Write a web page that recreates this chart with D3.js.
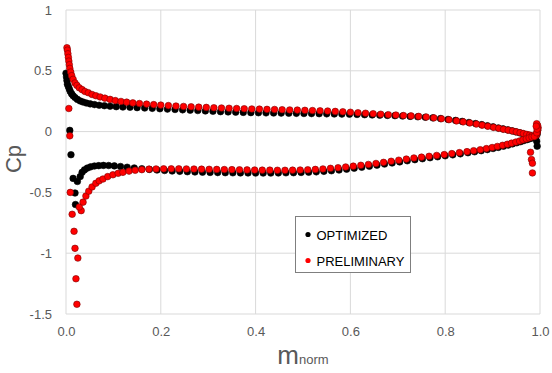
<!DOCTYPE html>
<html>
<head>
<meta charset="UTF-8">
<title>Cp distribution</title>
<script src="https://d3js.org/d3.v7.min.js"></script>
<style>
  body { margin: 0; background: #fff; }
  text { font-family: "Liberation Sans", Arial, sans-serif; }
</style>
</head>
<body>
<div class="canvas"></div>
<script>
const width = 552;
const height = 373;

const seriesNames = ['OPTIMIZED', 'PRELIMINARY'];
const xTicks = [0, 0.2, 0.4, 0.6, 0.8, 1.0];
const yTicks = [-1.5, -1, -0.5, 0, 0.5, 1];

// [m_norm, Cp]
const optUpper = [
  [0.000, 0.48], [0.001, 0.45], [0.002, 0.42], [0.003, 0.39], [0.005, 0.37], [0.007, 0.35],
  [0.009, 0.33], [0.012, 0.31], [0.015, 0.295], [0.019, 0.28], [0.024, 0.265], [0.030, 0.252],
  [0.036, 0.243], [0.043, 0.235], [0.051, 0.228], [0.060, 0.222], [0.070, 0.217], [0.081, 0.213],
  [0.093, 0.209], [0.106, 0.205], [0.120, 0.202], [0.135, 0.200], [0.150, 0.197], [0.166, 0.194],
  [0.182, 0.191], [0.198, 0.188], [0.214, 0.185], [0.230, 0.182], [0.246, 0.179], [0.262, 0.176],
  [0.278, 0.173], [0.294, 0.170], [0.310, 0.167], [0.326, 0.164], [0.342, 0.162], [0.358, 0.160],
  [0.374, 0.158], [0.390, 0.156], [0.406, 0.155], [0.422, 0.154], [0.438, 0.153], [0.454, 0.152],
  [0.470, 0.151], [0.486, 0.150], [0.502, 0.149], [0.518, 0.148], [0.534, 0.147], [0.550, 0.146],
  [0.566, 0.145], [0.582, 0.144], [0.598, 0.143], [0.614, 0.141], [0.630, 0.139], [0.646, 0.137],
  [0.662, 0.135], [0.678, 0.133], [0.694, 0.131], [0.710, 0.128], [0.726, 0.125], [0.742, 0.122],
  [0.758, 0.118], [0.774, 0.113], [0.790, 0.107], [0.806, 0.100], [0.822, 0.092], [0.836, 0.084],
  [0.850, 0.075], [0.864, 0.066], [0.877, 0.057], [0.889, 0.048], [0.901, 0.039], [0.912, 0.030],
  [0.922, 0.022], [0.932, 0.014], [0.941, 0.006], [0.949, -0.002], [0.957, -0.010], [0.964, -0.018],
  [0.971, -0.026], [0.977, -0.033], [0.982, -0.039], [0.987, -0.044], [0.991, -0.047],
  [0.994, -0.020], [0.995, 0.010], [0.995, 0.035]
];
const optLower = [
  [0.008, 0.01], [0.0105, -0.19], [0.015, -0.385], [0.019, -0.505], [0.020, -0.60], [0.024, -0.41],
  [0.030, -0.37], [0.034, -0.335], [0.039, -0.315], [0.045, -0.300], [0.052, -0.290], [0.060, -0.283],
  [0.069, -0.280], [0.079, -0.278], [0.090, -0.279], [0.102, -0.282], [0.115, -0.287], [0.129, -0.293],
  [0.144, -0.299], [0.160, -0.305], [0.176, -0.311], [0.192, -0.316], [0.208, -0.320], [0.224, -0.324],
  [0.240, -0.327], [0.256, -0.330], [0.272, -0.332], [0.288, -0.334], [0.304, -0.336], [0.320, -0.337],
  [0.336, -0.338], [0.352, -0.339], [0.368, -0.340], [0.384, -0.340], [0.400, -0.341], [0.416, -0.341],
  [0.432, -0.341], [0.448, -0.340], [0.464, -0.339], [0.480, -0.338], [0.496, -0.336], [0.512, -0.334],
  [0.528, -0.331], [0.544, -0.327], [0.560, -0.322], [0.576, -0.316], [0.592, -0.309], [0.608, -0.301],
  [0.624, -0.293], [0.640, -0.285], [0.656, -0.276], [0.672, -0.267], [0.688, -0.258], [0.704, -0.249],
  [0.720, -0.240], [0.736, -0.231], [0.752, -0.223], [0.768, -0.215], [0.784, -0.207], [0.800, -0.199],
  [0.816, -0.191], [0.832, -0.183], [0.848, -0.174], [0.862, -0.166], [0.876, -0.157], [0.889, -0.148],
  [0.901, -0.139], [0.912, -0.130], [0.923, -0.120], [0.933, -0.111], [0.942, -0.101], [0.951, -0.092],
  [0.959, -0.083], [0.966, -0.074], [0.973, -0.066], [0.979, -0.058], [0.985, -0.051], [0.990, -0.046],
  [0.993, -0.080], [0.994, -0.120]
];
const preUpper = [
  [0.002, 0.69], [0.003, 0.67], [0.004, 0.64], [0.005, 0.61], [0.006, 0.58], [0.007, 0.55],
  [0.008, 0.52], [0.010, 0.49], [0.012, 0.46], [0.015, 0.43], [0.019, 0.40], [0.023, 0.38],
  [0.028, 0.36], [0.034, 0.345], [0.040, 0.33], [0.047, 0.32], [0.055, 0.305], [0.063, 0.295],
  [0.072, 0.285], [0.082, 0.275], [0.093, 0.265], [0.104, 0.255], [0.116, 0.248], [0.128, 0.242],
  [0.141, 0.236], [0.155, 0.231], [0.170, 0.226], [0.185, 0.222], [0.200, 0.218], [0.216, 0.214],
  [0.232, 0.210], [0.248, 0.207], [0.264, 0.204], [0.280, 0.201], [0.296, 0.199], [0.312, 0.196],
  [0.328, 0.194], [0.344, 0.192], [0.360, 0.190], [0.376, 0.188], [0.392, 0.186], [0.408, 0.185],
  [0.424, 0.183], [0.440, 0.182], [0.456, 0.180], [0.472, 0.178], [0.488, 0.177], [0.504, 0.175],
  [0.520, 0.173], [0.536, 0.171], [0.552, 0.169], [0.568, 0.166], [0.584, 0.163], [0.600, 0.159],
  [0.616, 0.155], [0.632, 0.151], [0.648, 0.147], [0.664, 0.143], [0.680, 0.139], [0.696, 0.136],
  [0.712, 0.132], [0.728, 0.129], [0.744, 0.125], [0.760, 0.120], [0.776, 0.113], [0.792, 0.106],
  [0.808, 0.098], [0.824, 0.088], [0.838, 0.080], [0.852, 0.071], [0.866, 0.062], [0.878, 0.053],
  [0.890, 0.044], [0.902, 0.035], [0.913, 0.027], [0.923, 0.019], [0.933, 0.012], [0.942, 0.005],
  [0.950, -0.002], [0.958, -0.009], [0.965, -0.016], [0.972, -0.023], [0.978, -0.029], [0.983, -0.034],
  [0.988, -0.039], [0.992, -0.030], [0.994, -0.010], [0.995, 0.010], [0.996, 0.030], [0.995, 0.050],
  [0.993, 0.065]
];
const preLower = [
  [0.006, 0.19], [0.008, -0.035], [0.009, -0.50], [0.013, -0.68], [0.017, -0.82], [0.019, -0.96],
  [0.025, -1.04], [0.021, -1.21], [0.023, -1.42], [0.032, -0.65], [0.028, -0.62], [0.036, -0.58],
  [0.042, -0.53], [0.048, -0.49], [0.055, -0.455], [0.063, -0.425], [0.070, -0.405], [0.078, -0.39],
  [0.088, -0.37], [0.099, -0.355], [0.110, -0.343], [0.120, -0.335], [0.133, -0.325], [0.146, -0.318],
  [0.160, -0.313], [0.175, -0.309], [0.190, -0.307], [0.206, -0.306], [0.222, -0.306], [0.238, -0.306],
  [0.254, -0.307], [0.270, -0.308], [0.286, -0.309], [0.302, -0.310], [0.318, -0.311], [0.334, -0.312],
  [0.350, -0.313], [0.366, -0.314], [0.382, -0.315], [0.398, -0.316], [0.414, -0.317], [0.430, -0.317],
  [0.446, -0.318], [0.462, -0.318], [0.478, -0.317], [0.494, -0.316], [0.510, -0.314], [0.526, -0.311],
  [0.542, -0.307], [0.558, -0.302], [0.574, -0.297], [0.590, -0.291], [0.606, -0.284], [0.622, -0.277],
  [0.638, -0.270], [0.654, -0.262], [0.670, -0.253], [0.686, -0.244], [0.702, -0.235], [0.718, -0.226],
  [0.734, -0.217], [0.750, -0.210], [0.766, -0.203], [0.782, -0.196], [0.798, -0.189], [0.814, -0.181],
  [0.830, -0.173], [0.846, -0.165], [0.860, -0.157], [0.874, -0.149], [0.887, -0.140], [0.899, -0.131],
  [0.910, -0.122], [0.921, -0.113], [0.931, -0.104], [0.940, -0.095], [0.949, -0.086], [0.957, -0.077],
  [0.964, -0.068], [0.971, -0.060], [0.977, -0.052], [0.983, -0.045], [0.988, -0.040],
  [0.993, -0.010], [0.994, 0.020], [0.992, 0.045],
  [0.980, -0.17], [0.982, -0.23], [0.984, -0.26], [0.984, -0.34]
];

const ml = 66, mr = 12, mt = 10, mb = 59;

const svg = d3.select('.canvas')
  .append('svg')
  .attr('width', width)
  .attr('height', height)

const x = d3.scaleLinear().domain([0, 1]).range([ml, width - mr])
const y = d3.scaleLinear().domain([-1.5, 1]).range([height - mb, mt])

// grid
svg.append('g')
  .selectAll('line.h').data(yTicks).enter()
  .append('line')
  .attr('x1', x(0)).attr('x2', x(1))
  .attr('y1', d => y(d)).attr('y2', d => y(d))
  .attr('stroke', '#d9d9d9')
svg.append('g')
  .selectAll('line.v').data(xTicks).enter()
  .append('line')
  .attr('y1', y(1)).attr('y2', y(-1.5))
  .attr('x1', d => x(d)).attr('x2', d => x(d))
  .attr('stroke', '#d9d9d9')

// axes labels via d3 axes, lines hidden
const xAxis = svg.append('g')
  .attr('transform', `translate(0, ${y(-1.5)})`)
  .call(d3.axisBottom(x).tickValues(xTicks).tickFormat(d3.format('.1f')).tickSize(0).tickPadding(13))
const yAxis = svg.append('g')
  .attr('transform', `translate(${x(0)}, 0)`)
  .call(d3.axisLeft(y).tickValues(yTicks).tickFormat(d => d3.format('')(d).replace('−', '-')).tickSize(0).tickPadding(14))
for (const ax of [xAxis, yAxis]) {
  ax.select('.domain').remove()
  ax.selectAll('text')
    .attr('fill', '#595959')
    .style('font-size', '13px')
    .style('font-family', '"Liberation Sans", Arial, sans-serif')
}

// titles
svg.append('text')
  .attr('transform', `translate(21, ${y(-0.225)}) rotate(-90)`)
  .attr('text-anchor', 'middle')
  .attr('fill', '#595959')
  .style('font-size', '22px')
  .text('Cp')
const xt = svg.append('text')
  .attr('x', x(0.5))
  .attr('y', 364)
  .attr('text-anchor', 'middle')
  .attr('fill', '#595959')
xt.append('tspan').style('font-size', '26px').text('m')
xt.append('tspan').style('font-size', '13px').text('norm')

// points
const series = [
  { name: seriesNames[0], data: optUpper.concat(optLower), fill: '#000000', stroke: '#000000' },
  { name: seriesNames[1], data: preUpper.concat(preLower), fill: '#ff0000', stroke: '#7a0000' }
]
series.forEach(s => {
  svg.append('g')
    .selectAll('circle').data(s.data).enter()
    .append('circle')
    .attr('cx', d => x(d[0]))
    .attr('cy', d => y(d[1]))
    .attr('r', 3.3)
    .attr('fill', s.fill)
    .attr('stroke', s.stroke)
    .attr('stroke-width', 0.6)
})

// legend
const lg = svg.append('g').attr('transform', 'translate(295.5, 216.5)')
lg.append('rect')
  .attr('width', 115).attr('height', 56)
  .attr('fill', '#fff').attr('stroke', '#7f7f7f')
series.forEach((s, i) => {
  const row = lg.append('g').attr('transform', `translate(0, ${18 + i * 26})`)
  row.append('circle').attr('cx', 12.5).attr('cy', 0).attr('r', 2.6).attr('fill', s.fill)
  row.append('text').attr('x', 21).attr('y', 5).attr('fill', '#000')
    .style('font-size', '13px').text(s.name)
})
</script>
</body>
</html>
